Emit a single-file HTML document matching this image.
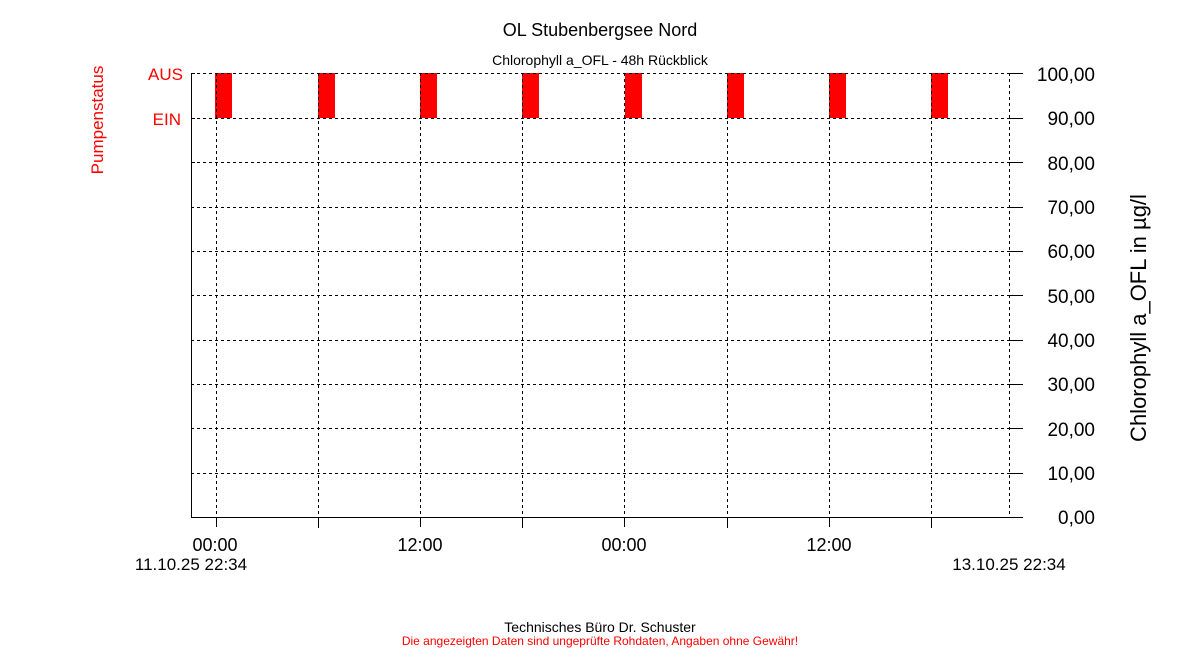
<!DOCTYPE html>
<html><head><meta charset="utf-8"><style>
body{margin:0;background:#fff;}
svg{display:block;font-family:"Liberation Sans",Arial,sans-serif;}
</style></head><body>
<svg width="1200" height="650" viewBox="0 0 1200 650">
<text x="600" y="36" font-size="18" text-anchor="middle" fill="#000">OL Stubenbergsee Nord</text>
<text x="600" y="65" font-size="14" text-anchor="middle" fill="#000">Chlorophyll a_OFL - 48h Rückblick</text>
<g fill="#ff0000">
<rect x="215" y="73" width="17" height="45"/><rect x="318" y="73" width="17" height="45"/>
<rect x="420" y="73" width="17" height="45"/><rect x="522" y="73" width="17" height="45"/>
<rect x="625" y="73" width="17" height="45"/><rect x="727" y="73" width="17" height="45"/>
<rect x="829" y="73" width="17" height="45"/><rect x="931" y="73" width="17" height="45"/>
</g>
<g stroke="#000" stroke-width="1" stroke-dasharray="3,3" fill="none">
<path d="M191 73.5H1010M191 118.5H1010M191 162.5H1010M191 207.5H1010M191 251.5H1010M191 295.5H1010M191 340.5H1010M191 384.5H1010M191 428.5H1010M191 473.5H1010"/>
<path d="M216.5 73V517M318.5 73V517M420.5 73V517M522.5 73V517M624.5 73V517M727.5 73V517M829.5 73V517M931.5 73V517M1009.5 73V517"/>
</g>
<g stroke="#000" stroke-width="1" fill="none">
<path d="M191.5 73V517.5H1023"/>
<path d="M191 73.5H195M191 118.5H195M191 162.5H195"/>
<path d="M1010 73.5H1023M1010 118.5H1023M1010 162.5H1023M1010 207.5H1023M1010 251.5H1023M1010 295.5H1023M1010 340.5H1023M1010 384.5H1023M1010 428.5H1023M1010 473.5H1023"/>
<path d="M216.5 517V527M318.5 517V528M420.5 517V527M522.5 517V528M624.5 517V527M727.5 517V528M829.5 517V527M931.5 517V528"/>
</g>
<g font-size="19" fill="#000" text-anchor="end">
<text x="1095" y="81">100,00</text><text x="1095" y="125">90,00</text><text x="1095" y="170">80,00</text>
<text x="1095" y="214">70,00</text><text x="1095" y="258">60,00</text><text x="1095" y="303">50,00</text>
<text x="1095" y="347">40,00</text><text x="1095" y="391">30,00</text><text x="1095" y="436">20,00</text>
<text x="1095" y="480">10,00</text><text x="1095" y="524">0,00</text>
</g>
<g font-size="18" fill="#000" text-anchor="middle">
<text x="215" y="551">00:00</text><text x="420" y="551">12:00</text>
<text x="624" y="551">00:00</text><text x="829" y="551">12:00</text>
</g>
<text x="191" y="570" font-size="17" text-anchor="middle">11.10.25 22:34</text>
<text x="1009" y="570" font-size="17" text-anchor="middle">13.10.25 22:34</text>
<text transform="translate(1146 318) rotate(-90)" font-size="22" text-anchor="middle">Chlorophyll a_OFL in µg/l</text>
<text transform="translate(103 120) rotate(-90)" font-size="17" text-anchor="middle" fill="#ff0000">Pumpenstatus</text>
<text x="183" y="80" font-size="17" text-anchor="end" fill="#ff0000">AUS</text>
<text x="181" y="125" font-size="17" text-anchor="end" fill="#ff0000">EIN</text>
<text x="600" y="632" font-size="14" text-anchor="middle">Technisches Büro Dr. Schuster</text>
<text x="600" y="645" font-size="12" text-anchor="middle" fill="#ff0000">Die angezeigten Daten sind ungeprüfte Rohdaten, Angaben ohne Gewähr!</text>
</svg>
</body></html>
